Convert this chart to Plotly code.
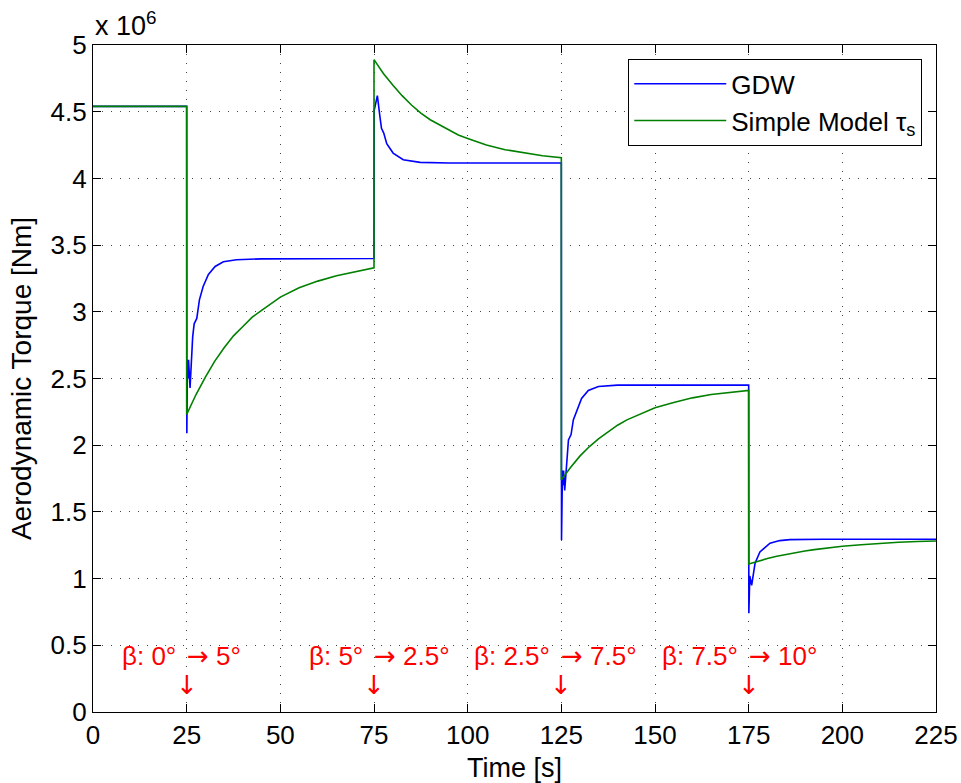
import plotly.graph_objects as go

# time [s] and torque [x 1e6 Nm]
t_gdw = [0, 25,
         25.05, 25.2, 25.4, 25.5, 25.9, 26.6, 27.0, 27.7, 28.4, 29.4, 30.8, 32.6, 34.8, 38.3, 45, 75,
         75.05, 75.9, 76.6, 77.0, 77.6, 78.4, 80.1, 82.8, 87.3, 95, 125,
         125.05, 125.3, 125.5, 125.6, 125.9, 126.9, 127.6, 128.2, 129.1, 130.4, 132.2, 134.9, 140, 175,
         175.05, 175.3, 175.8, 176.7, 178.0, 180.7, 183.3, 186, 195, 225]
gdw = [4.54, 4.54,
       2.09, 2.64, 2.50, 2.64, 2.43, 2.81, 2.91, 2.95, 3.09, 3.19, 3.28, 3.34, 3.375, 3.39, 3.397, 3.40,
       4.51, 4.62, 4.46, 4.375, 4.34, 4.26, 4.19, 4.14, 4.12, 4.115, 4.115,
       1.29, 1.81, 1.70, 1.81, 1.66, 2.04, 2.08, 2.19, 2.26, 2.35, 2.41, 2.44, 2.45, 2.45,
       0.74, 1.02, 0.95, 1.115, 1.20, 1.265, 1.285, 1.292, 1.295, 1.295]

t_simple = [0, 25,
            25, 27.5, 30, 32.5, 35, 37.5, 40, 42.5, 45, 47.5, 50, 55, 60, 65, 70, 75,
            75, 77.5, 80, 82.5, 85, 87.5, 90, 92.5, 95, 97.5, 100, 105, 110, 115, 120, 125,
            125, 127.5, 130, 132.5, 135, 137.5, 140, 142.5, 145, 147.5, 150, 155, 160, 165, 170, 175,
            175, 177.5, 180, 182.5, 185, 187.5, 190, 192.5, 195, 197.5, 200, 205, 210, 215, 220, 225]
simple = [4.54, 4.54,
          2.23, 2.38, 2.51, 2.63, 2.73, 2.82, 2.89, 2.96, 3.01, 3.06, 3.11, 3.18, 3.23, 3.27, 3.30, 3.33,
          4.89, 4.786, 4.70, 4.62, 4.55, 4.49, 4.44, 4.40, 4.36, 4.325, 4.30, 4.25, 4.215, 4.19, 4.17, 4.155,
          1.74, 1.835, 1.92, 1.99, 2.05, 2.10, 2.15, 2.19, 2.22, 2.25, 2.28, 2.32, 2.355, 2.38, 2.395, 2.41,
          1.11, 1.131, 1.15, 1.167, 1.182, 1.195, 1.207, 1.217, 1.227, 1.235, 1.242, 1.254, 1.264, 1.272, 1.278, 1.282]

# pitch steps: time, from, to
step_t = [25, 75, 125, 175]
step_from = ["0°", "5°", "2.5°", "7.5°"]
step_to = ["5°", "2.5°", "7.5°", "10°"]

x_ticks = [0, 25, 50, 75, 100, 125, 150, 175, 200, 225]
y_ticks = [0, 0.5, 1, 1.5, 2, 2.5, 3, 3.5, 4, 4.5, 5]

FONT = "Liberation Sans, Arial, Helvetica, sans-serif"
ARROW = "font-family:DejaVu Sans"

fig = go.Figure()
fig.add_trace(go.Scatter(x=t_gdw, y=gdw, mode="lines", name="GDW",
                         line=dict(color="rgb(0,0,255)", width=1.6)))
fig.add_trace(go.Scatter(x=t_simple, y=simple, mode="lines", name="Simple Model τ<sub>s</sub>",
                         line=dict(color="rgb(0,128,0)", width=1.6)))

# red pitch-step labels
red = dict(size=26, color="red", family=FONT)
for t, a, b in zip(step_t, step_from, step_to):
    fig.add_annotation(x=t, y=0.42, text="β: " + a, showarrow=False, xanchor="right",
                       yanchor="middle", xshift=-9, font=red)
    fig.add_annotation(x=t, y=0.42, text=f"<span style='{ARROW}'>→</span> " + b, showarrow=False,
                       xanchor="left", yanchor="middle", xshift=-2, font=red)
    fig.add_annotation(x=t, y=0.2, text=f"<span style='{ARROW}'>↓</span>", showarrow=False,
                       xanchor="center", yanchor="middle", font=red)

# exponent label like matlab
fig.add_annotation(x=0, y=1, xref="paper", yref="paper", text="x 10<sup>6</sup>",
                   showarrow=False, xanchor="left", yanchor="bottom", yshift=2,
                   font=dict(size=27, color="black", family=FONT))

axis_style = dict(showline=True, linecolor="black", linewidth=1.3, mirror="ticks",
                  ticks="inside", ticklen=8, tickcolor="black", tickwidth=1.2,
                  showgrid=True, gridcolor="rgb(70,70,70)", gridwidth=1, griddash="1px,8px",
                  zeroline=False, automargin=False, ticklabeloverflow="allow",
                  tickfont=dict(size=26, color="black", family=FONT))

fig.update_xaxes(range=[0, 225], tickvals=x_ticks, title=dict(text="Time [s]", standoff=8,
                 font=dict(size=27, color="black", family=FONT)), **axis_style)
fig.update_yaxes(range=[0, 5], tickvals=y_ticks, title=dict(text="Aerodynamic Torque [Nm]", standoff=10,
                 font=dict(size=28, color="black", family=FONT)), **axis_style)

fig.update_layout(
    width=961, height=783,
    margin=dict(l=93, r=25, t=45, b=71),
    paper_bgcolor="white", plot_bgcolor="white",
    font=dict(family=FONT, size=26, color="black"),
    legend=dict(x=0.6346, y=0.979, xanchor="left", yanchor="top",
                bgcolor="white", bordercolor="black", borderwidth=1.3,
                font=dict(size=26, color="black", family=FONT), itemwidth=92,
                tracegroupgap=0),
    showlegend=True,
)

# drop the default 8px page margin so the figure fills the window
fig.write_html("out.html", config={"displayModeBar": False},
               post_script="document.body.style.margin='0';")
